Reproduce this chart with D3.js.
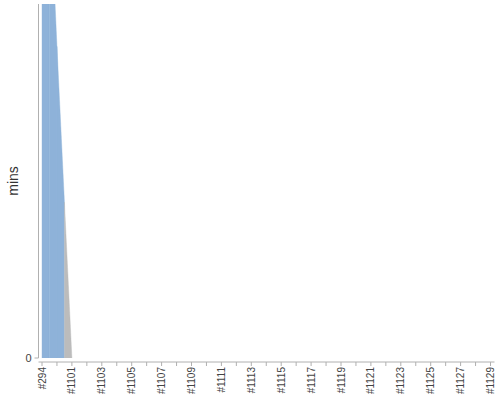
<!DOCTYPE html>
<html><head><meta charset="utf-8">
<script src="https://cdn.jsdelivr.net/npm/d3@7"></script>
<style>
html,body{margin:0;padding:0;background:#fff;}
svg{display:block;}
</style></head>
<body>
<svg id="chart" width="500" height="400"></svg>
<script>
// build labels (x categories)
const categories = ["#294","#1100","#1101","#1102","#1103","#1104","#1105","#1106","#1107","#1108","#1109","#1110",
  "#1111","#1112","#1113","#1114","#1115","#1116","#1117","#1118","#1119","#1120","#1121","#1122","#1123","#1124",
  "#1125","#1126","#1127","#1128","#1129"];
// build duration in minutes
const durations = [1.83, 0.88, 0, 0, 0, 0, 0, 0, 0, 0, 0, 0, 0, 0, 0, 0, 0, 0, 0, 0, 0, 0, 0, 0, 0, 0, 0, 0, 0, 0, 0];
// build result per build (drives item colour)
const results = ["SUCCESS","SUCCESS","ABORTED","ABORTED","ABORTED","ABORTED","ABORTED","ABORTED","ABORTED","ABORTED",
  "ABORTED","ABORTED","ABORTED","ABORTED","ABORTED","ABORTED","ABORTED","ABORTED","ABORTED","ABORTED","ABORTED",
  "ABORTED","ABORTED","ABORTED","ABORTED","ABORTED","ABORTED","ABORTED","ABORTED","ABORTED","ABORTED"];
const yDomain = [0, 1];
const yTickValues = [0];
const yLabel = "mins";
const xLabelEvery = 2;

const resultColor = {SUCCESS: "#8eb2d9", ABORTED: "#bcbcbc"};

const svg = d3.select("#chart");
const plot = {left: 42, right: 490.5, top: 4, bottom: 358};

const x = d3.scalePoint().domain(categories).range([plot.left, plot.right]);
const y = d3.scaleLinear().domain(yDomain).range([plot.bottom, plot.top]);

svg.append("defs").append("clipPath").attr("id","clip")
  .append("rect").attr("x", plot.left - 1).attr("y", plot.top)
  .attr("width", plot.right - plot.left + 6).attr("height", plot.bottom - plot.top);

const g = svg.append("g").attr("clip-path","url(#clip)");

// build half-segment pieces: each segment between consecutive builds is split at its middle,
// left half painted with the earlier build's colour, right half with the later build's colour
const pieces = [];
for (let i = 1; i < categories.length; i++) {
  const x0 = x(categories[i-1]), x1 = x(categories[i]);
  const v0 = durations[i-1], v1 = durations[i];
  const xm = (x0 + x1) / 2, vm = (v0 + v1) / 2;
  pieces.push({pts: [{px: x0, v: v0}, {px: xm, v: vm}], color: resultColor[results[i-1]]});
  pieces.push({pts: [{px: xm, v: vm}, {px: x1, v: v1}], color: resultColor[results[i]]});
}

const area = d3.area().x(d => d.px).y0(y(0)).y1(d => y(d.v));
g.selectAll("path.piece").data(pieces.filter(p => p.pts.some(d => d.v > 0)))
  .join("path").attr("class","piece")
  .attr("d", d => area(d.pts))
  .attr("fill", d => d.color)
  .attr("stroke", d => d.color).attr("stroke-width", 0.4);

// axes
const axisColor = "#b0b0b0";
const textColor = "#444";

// y axis
const yAxisX = plot.left - 3.5;
svg.append("line").attr("x1", yAxisX).attr("x2", yAxisX)
  .attr("y1", plot.top).attr("y2", plot.bottom).attr("stroke", axisColor).attr("stroke-width", 1);
const yt = svg.append("g");
yt.selectAll("line").data(yTickValues).join("line")
  .attr("x1", yAxisX - 4).attr("x2", yAxisX)
  .attr("y1", d => y(d)).attr("y2", d => y(d))
  .attr("stroke", axisColor);
yt.selectAll("text").data(yTickValues).join("text")
  .attr("x", yAxisX - 7).attr("y", d => y(d)).attr("dy", "0.35em")
  .attr("text-anchor","end")
  .attr("font-family","Liberation Sans, Arial, sans-serif").attr("font-size", 11)
  .attr("fill", textColor).text(d => d);

svg.append("text")
  .attr("transform", `translate(18,${(plot.top + plot.bottom)/2}) rotate(-90)`)
  .attr("text-anchor","middle")
  .attr("font-family","Liberation Sans, Arial, sans-serif").attr("font-size", 14)
  .attr("fill", "#333").text(yLabel);

// x axis
const xAxisY = plot.bottom + 4;
svg.append("line").attr("x1", yAxisX).attr("x2", plot.right + 4)
  .attr("y1", xAxisY).attr("y2", xAxisY).attr("stroke", axisColor);
const xt = svg.append("g");
xt.selectAll("line").data(categories).join("line")
  .attr("x1", d => x(d)).attr("x2", d => x(d))
  .attr("y1", xAxisY).attr("y2", xAxisY + 4)
  .attr("stroke", axisColor);
xt.selectAll("text").data(categories.filter((d, i) => i % xLabelEvery === 0)).join("text")
  .attr("transform", d => `translate(${x(d) + 3.5},${xAxisY + 5}) rotate(-90)`)
  .attr("text-anchor","end")
  .attr("font-family","Liberation Sans, Arial, sans-serif").attr("font-size", 10)
  .attr("fill", textColor).text(d => d);
</script>
</body></html>
